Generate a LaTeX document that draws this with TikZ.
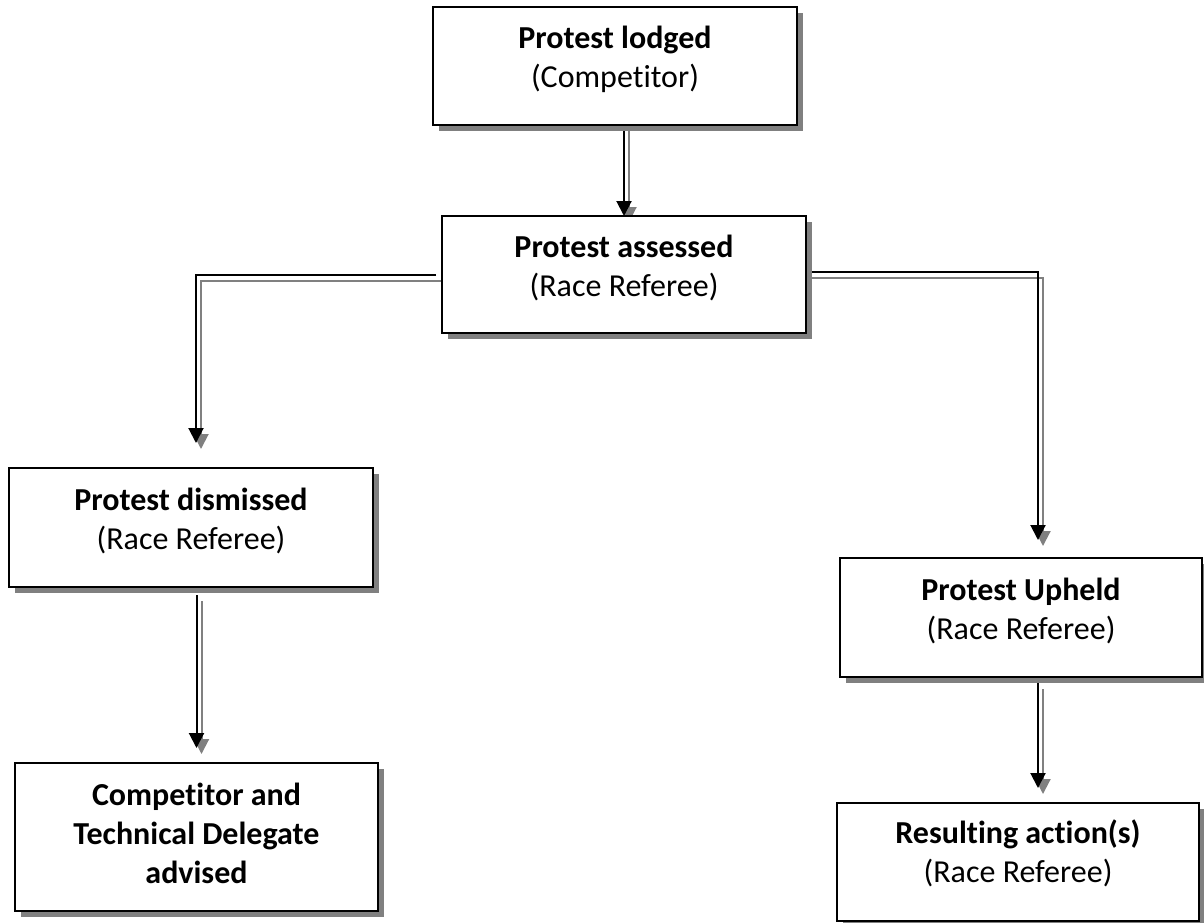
\documentclass[tikz,border=0pt]{standalone}
\usepackage{fontspec}
\setmainfont{Carlito}[Ligatures=NoCommon]
\usetikzlibrary{shadows,arrows.meta,backgrounds}
\definecolor{shgray}{RGB}{128,128,128}
\tikzset{
 box/.style={draw=black, line width=2pt, fill=white, outer sep=0pt, inner sep=0pt,
   drop shadow={shadow xshift=6pt, shadow yshift=-6pt, fill=shgray, opacity=1}},
 txt/.style={align=center, inner sep=0pt, anchor=north, font=\fontsize{32}{39}\selectfont},
 cmain/.style={draw=black, line width=2pt, -{Triangle[length=15pt,width=15pt]}},
 cshadow/.style={draw=shgray, line width=2pt, -{Triangle[length=15pt,width=15pt]},
   transform canvas={shift={(5pt,-6pt)}}},
}
\newcommand{\myconn}[2]{\draw[cshadow,#1] #2; \draw[cmain,#1] #2;}
\begin{document}
\begin{tikzpicture}[x=1pt,y=-1pt]
\useasboundingbox (0,0) rectangle (1204,922);
% boxes
\node[box, minimum width=364pt, minimum height=118pt] (b1) at (615,66) {};
\node[box, minimum width=364pt, minimum height=117pt] (b2) at (624,274.5) {};
\node[box, minimum width=364pt, minimum height=119pt] (b3) at (191,527.5) {};
\node[box, minimum width=363pt, minimum height=148pt] (b4) at (196.5,837) {};
\node[box, minimum width=362pt, minimum height=119pt] (b5) at (1021,617.5) {};
\node[box, minimum width=362pt, minimum height=118pt] (b6) at (1018,862) {};
% texts
\node[txt] (t1) at ([yshift=-19pt]b1.north) {\textbf{Protest lodged}\\(Competitor)};
\node[txt] (t2) at ([yshift=-19pt]b2.north) {\textbf{Protest assessed}\\(Race Referee)};
\node[txt] (t3) at ([yshift=-20pt]b3.north) {\textbf{Protest dismissed}\\(Race Referee)};
\node[txt] (t4) at ([yshift=-20pt]b4.north) {\textbf{Competitor and}\\\textbf{Technical Delegate}\\\textbf{advised}};
\node[txt] (t5) at ([yshift=-20pt]b5.north) {\textbf{Protest Upheld}\\(Race Referee)};
\node[txt] (t6) at ([yshift=-17pt]b6.north) {\textbf{Resulting action(s)}\\(Race Referee)};
% connectors
\begin{scope}[on background layer]
\myconn{}{([yshift=3pt]b1.south -| b2.north) -- (b2.north)}
\myconn{shorten >=25pt}{([xshift=-6pt]b2.west) -| ([xshift=5pt]b3.north)}
\myconn{shorten >=15pt}{([yshift=-8pt]b3.south -| b4.north) -- (b4.north)}
\myconn{shorten >=18pt}{([yshift=2.5pt]b2.east) -| ([xshift=17pt]b5.north)}
\myconn{shorten >=15pt}{([xshift=17pt,yshift=-6pt]b5.south) -- ([xshift=17pt]b5.south |- b6.north)}
\end{scope}
\end{tikzpicture}
\end{document}
